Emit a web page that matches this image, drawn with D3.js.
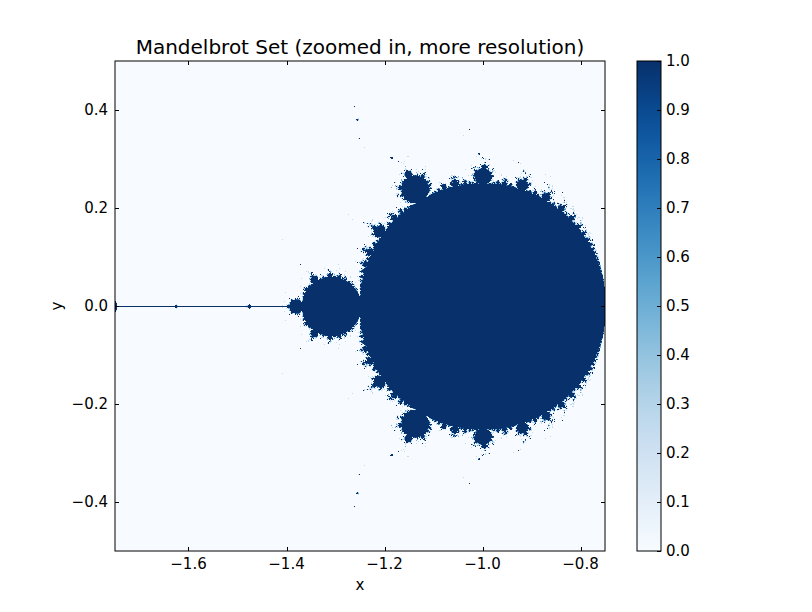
<!DOCTYPE html>
<html>
<head>
<meta charset="utf-8">
<script src="https://cdn.jsdelivr.net/npm/d3@7"></script>
<style>
  body { margin: 0; background: #fff; }
  text { font-family: "DejaVu Sans", sans-serif; fill: #000; }
</style>
</head>
<body>
<svg id="chart" width="812" height="612"></svg>
<script>
// view window and sampling of the set
var xDomain = [-1.75, -0.75];
var yDomain = [-0.5, 0.5];
var maxIter = 100;

var xTicks = [-1.6, -1.4, -1.2, -1.0, -0.8];
var yTicks = [-0.4, -0.2, 0.0, 0.2, 0.4];
var cbTicks = [0.0, 0.1, 0.2, 0.3, 0.4, 0.5, 0.6, 0.7, 0.8, 0.9, 1.0];

var titleText = 'Mandelbrot Set (zoomed in, more resolution)';

var plot = {left: 115, top: 61, width: 490, height: 490};
var cbar = {left: 637, top: 61, width: 24, height: 490};

var svg = d3.select('#chart');

var x = d3.scaleLinear().domain(xDomain).range([plot.left, plot.left + plot.width]);
var y = d3.scaleLinear().domain(yDomain).range([plot.top + plot.height, plot.top]);
var color = d3.scaleSequential(d3.interpolateBlues).domain([0, 1]);

function inSet(cr, ci) {
  var zr = 0, zi = 0;
  for (var k = 0; k < maxIter; k++) {
    var zr2 = zr * zr, zi2 = zi * zi;
    if (zr2 + zi2 > 4) return 0;
    zi = 2 * zr * zi + ci;
    zr = zr2 - zi2 + cr;
  }
  return 1;
}

// one grid point per screen pixel, plus 4 sub-samples for the soft fringe
var stepX = (xDomain[1] - xDomain[0]) / plot.width;
var stepY = (yDomain[1] - yDomain[0]) / plot.height;
var subs = [[-0.25, -0.25], [0.25, -0.25], [-0.25, 0.25], [0.25, 0.25]];

var cells = new Float32Array(plot.width * plot.height);
for (var py = 0; py < plot.height; py++) {
  var ci = yDomain[1] - py * stepY;
  for (var px = 0; px < plot.width; px++) {
    var cr = xDomain[0] + px * stepX;
    var centre = inSet(cr, ci);
    var sum = 0;
    for (var s = 0; s < subs.length; s++) {
      sum += inSet(cr + subs[s][0] * stepX, ci - subs[s][1] * stepY);
    }
    cells[py * plot.width + px] = Math.max(centre, sum / subs.length);
  }
}

var canvas = document.createElement('canvas');
canvas.width = plot.width;
canvas.height = plot.height;
var ctx = canvas.getContext('2d');
var img = ctx.createImageData(plot.width, plot.height);
for (var i = 0; i < cells.length; i++) {
  var col = d3.rgb(color(cells[i]));
  img.data[i * 4] = col.r;
  img.data[i * 4 + 1] = col.g;
  img.data[i * 4 + 2] = col.b;
  img.data[i * 4 + 3] = 255;
}
ctx.putImageData(img, 0, 0);

svg.append('image')
  .attr('x', x(xDomain[0]))
  .attr('y', y(yDomain[1]))
  .attr('width', x(xDomain[1]) - x(xDomain[0]))
  .attr('height', y(yDomain[0]) - y(yDomain[1]))
  .attr('preserveAspectRatio', 'none')
  .attr('href', canvas.toDataURL());

// frame
svg.append('rect')
  .attr('x', plot.left).attr('y', plot.top)
  .attr('width', plot.width).attr('height', plot.height)
  .attr('fill', 'none').attr('stroke', '#000').attr('stroke-width', 1);

var fmt = d3.format('.1f');
var tickLen = 4;

// x ticks (inside, top and bottom)
xTicks.forEach(function(t) {
  var px = Math.round(x(t)) + 0.5;
  svg.append('line').attr('x1', px).attr('x2', px)
    .attr('y1', plot.top + plot.height).attr('y2', plot.top + plot.height - tickLen)
    .attr('stroke', '#000');
  svg.append('line').attr('x1', px).attr('x2', px)
    .attr('y1', plot.top).attr('y2', plot.top + tickLen)
    .attr('stroke', '#000');
  svg.append('text').attr('x', x(t)).attr('y', plot.top + plot.height + 18)
    .attr('text-anchor', 'middle').attr('font-size', 15)
    .text(fmt(t));
});

// y ticks (inside, left and right)
yTicks.forEach(function(t) {
  var py = Math.round(y(t)) + 0.5;
  svg.append('line').attr('y1', py).attr('y2', py)
    .attr('x1', plot.left).attr('x2', plot.left + tickLen)
    .attr('stroke', '#000');
  svg.append('line').attr('y1', py).attr('y2', py)
    .attr('x1', plot.left + plot.width).attr('x2', plot.left + plot.width - tickLen)
    .attr('stroke', '#000');
  svg.append('text').attr('x', plot.left - 7).attr('y', y(t) + 5)
    .attr('text-anchor', 'end').attr('font-size', 15)
    .text(fmt(t));
});

svg.append('text').attr('x', plot.left + plot.width / 2).attr('y', 590)
  .attr('text-anchor', 'middle').attr('font-size', 15).text('x');
svg.append('text')
  .attr('transform', 'translate(62,' + (plot.top + plot.height / 2) + ') rotate(-90)')
  .attr('text-anchor', 'middle').attr('font-size', 15).text('y');

svg.append('text').attr('x', plot.left + plot.width / 2).attr('y', 54)
  .attr('text-anchor', 'middle').attr('font-size', 20).text(titleText);

// colorbar
var cbY = d3.scaleLinear().domain([0, 1]).range([cbar.top + cbar.height, cbar.top]);
var grad = svg.append('defs').append('linearGradient')
  .attr('id', 'cbgrad').attr('x1', 0).attr('y1', 1).attr('x2', 0).attr('y2', 0);
d3.range(0, 1.0001, 0.05).forEach(function(v) {
  grad.append('stop').attr('offset', v).attr('stop-color', color(v));
});
svg.append('rect')
  .attr('x', cbar.left).attr('y', cbar.top)
  .attr('width', cbar.width).attr('height', cbar.height)
  .attr('fill', 'url(#cbgrad)').attr('stroke', '#000').attr('stroke-width', 1);

cbTicks.forEach(function(t) {
  var py = Math.round(cbY(t)) + 0.5;
  svg.append('line').attr('y1', py).attr('y2', py)
    .attr('x1', cbar.left + cbar.width).attr('x2', cbar.left + cbar.width - tickLen)
    .attr('stroke', '#000');
  svg.append('text').attr('x', cbar.left + cbar.width + 5).attr('y', cbY(t) + 5)
    .attr('text-anchor', 'start').attr('font-size', 15)
    .text(fmt(t));
});
</script>
</body>
</html>
